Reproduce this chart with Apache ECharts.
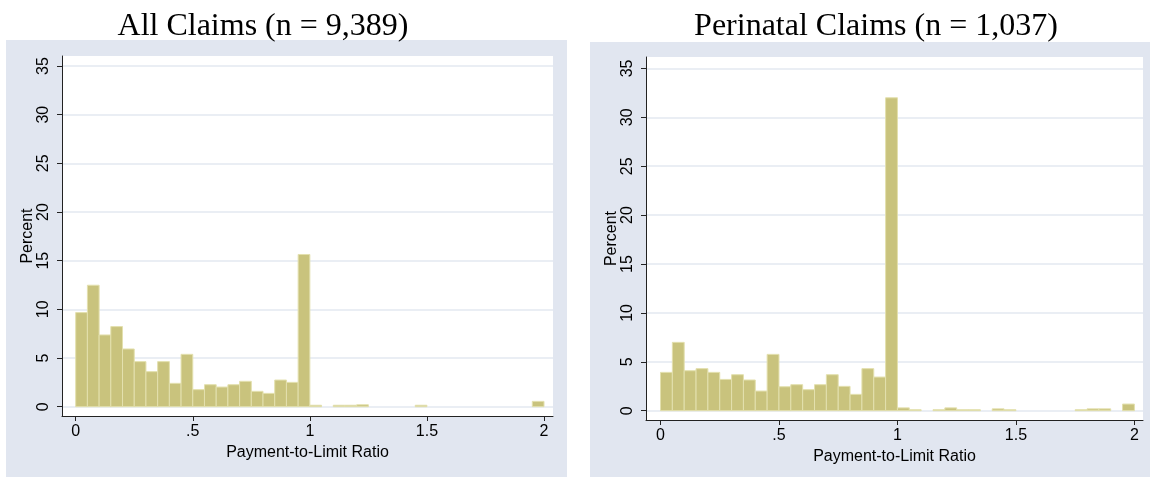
<!DOCTYPE html>
<html>
<head>
<meta charset="utf-8">
<title>Payment-to-Limit Ratio histograms</title>
<script src="https://cdn.jsdelivr.net/npm/echarts@6/dist/echarts.min.js"></script>
<style>
  html, body { margin: 0; padding: 0; background: #ffffff; }
  #chart { width: 1150px; height: 477px; }
</style>
</head>
<body>
<div id="chart"></div>
<script>
// Histogram bins: left edge of each 0.05-wide bin on the payment-to-limit ratio
const binStarts = [
  0.00, 0.05, 0.10, 0.15, 0.20, 0.25, 0.30, 0.35, 0.40, 0.45,
  0.50, 0.55, 0.60, 0.65, 0.70, 0.75, 0.80, 0.85, 0.90, 0.95,
  1.00, 1.05, 1.10, 1.15, 1.20, 1.25, 1.30, 1.35, 1.40, 1.45,
  1.50, 1.55, 1.60, 1.65, 1.70, 1.75, 1.80, 1.85, 1.90, 1.95
];
const binWidth = 0.05;

// Percent of claims in each bin
const allClaimsPct = [
  9.67, 12.48, 7.37, 8.23, 5.93, 4.63, 3.60, 4.63, 2.40, 5.38,
  1.75, 2.26, 2.02, 2.26, 2.61, 1.58, 1.37, 2.74, 2.50, 15.64,
  0.15, 0, 0.15, 0.15, 0.20, 0, 0, 0, 0, 0.15,
  0, 0, 0, 0, 0, 0, 0, 0, 0, 0.55
];
const perinatalPct = [
  3.92, 6.99, 4.09, 4.30, 3.92, 3.20, 3.68, 3.14, 2.01, 5.76,
  2.45, 2.66, 2.15, 2.66, 3.68, 2.49, 1.67, 4.30, 3.44, 32.0,
  0.29, 0.10, 0, 0.10, 0.29, 0.10, 0.10, 0, 0.19, 0.10,
  0, 0, 0, 0, 0, 0.10, 0.19, 0.19, 0, 0.68
];

const panelTitles = ['All Claims (n = 9,389)', 'Perinatal Claims (n = 1,037)'];
const xTickValues = [0, 0.5, 1, 1.5, 2];
const xTickLabels = ['0', '.5', '1', '1.5', '2'];
const yTickValues = [0, 5, 10, 15, 20, 25, 30, 35];
const xAxisTitle = 'Payment-to-Limit Ratio';
const yAxisTitle = 'Percent';

const BG = '#e1e6f0';
const GRID_LINE = '#e3e8f1';
const BAR_FILL = '#c9c37d';
const BAR_EDGE = '#e3e0ae';
const AXIS = '#222222';
const SANS = 'Liberation Sans, Arial, sans-serif';
const SERIF = 'Liberation Serif, Times New Roman, serif';

function pairs(values) {
  return binStarts.map((x, i) => [x, values[i]]);
}

function renderBin(params, api) {
  const x0 = api.value(0);
  const h = api.value(1);
  if (!h) return null;
  const topLeft = api.coord([x0, h]);
  const bottomRight = api.coord([x0 + binWidth, 0]);
  return {
    type: 'rect',
    shape: {
      x: topLeft[0],
      y: topLeft[1],
      width: bottomRight[0] - topLeft[0],
      height: bottomRight[1] - topLeft[1]
    },
    style: { fill: BAR_FILL, stroke: BAR_EDGE, lineWidth: 1 }
  };
}

function xAxisFor(gridIndex, min, max) {
  const xFmt = v => {
    const i = xTickValues.indexOf(v);
    return i >= 0 ? xTickLabels[i] : '';
  };
  return {
    type: 'value', gridIndex, min, max,
    name: xAxisTitle, nameLocation: 'middle', nameGap: 25,
    nameTextStyle: { fontFamily: SANS, fontSize: 16, color: '#000' },
    axisLine: { show: true, onZero: false, lineStyle: { color: AXIS, width: 1 } },
    axisTick: { show: true, length: 5, customValues: xTickValues, lineStyle: { color: AXIS } },
    axisLabel: { customValues: xTickValues, formatter: xFmt, margin: 8,
                 fontFamily: SANS, fontSize: 16, color: '#000' },
    splitLine: { show: false }
  };
}

function yAxisFor(gridIndex, min, max) {
  return {
    type: 'value', gridIndex, min, max,
    name: yAxisTitle, nameLocation: 'middle', nameGap: 24,
    nameTextStyle: { fontFamily: SANS, fontSize: 16, color: '#000' },
    axisLine: { show: true, onZero: false, lineStyle: { color: AXIS, width: 1 } },
    axisTick: { show: true, length: 5, customValues: yTickValues, lineStyle: { color: AXIS } },
    axisLabel: { customValues: yTickValues, rotate: 90, margin: 10,
                 fontFamily: SANS, fontSize: 16, color: '#000' },
    splitLine: { show: true, lineStyle: { color: GRID_LINE, width: 1.5 } }
  };
}

const chart = echarts.init(document.getElementById('chart'), null, { renderer: 'canvas' });

chart.setOption({
  animation: false,
  backgroundColor: '#ffffff',
  graphic: {
    elements: [
      { type: 'rect', z: -10, silent: true, shape: { x: 6, y: 40, width: 561, height: 437 }, style: { fill: BG } },
      { type: 'rect', z: -10, silent: true, shape: { x: 590, y: 42, width: 560, height: 435 }, style: { fill: BG } }
    ]
  },
  title: [
    { text: panelTitles[0], left: 258, top: 6, textAlign: 'center',
      textStyle: { fontFamily: SERIF, fontSize: 32, fontWeight: 'normal', color: '#000' } },
    { text: panelTitles[1], left: 871, top: 6, textAlign: 'center',
      textStyle: { fontFamily: SERIF, fontSize: 32, fontWeight: 'normal', color: '#000' } }
  ],
  grid: [
    { left: 62, top: 56, width: 491, height: 360, show: true, backgroundColor: '#ffffff', borderWidth: 0 },
    { left: 646, top: 57, width: 497, height: 363, show: true, backgroundColor: '#ffffff', borderWidth: 0 }
  ],
  xAxis: [
    xAxisFor(0, -0.0585, 2.0384),
    xAxisFor(1, -0.0612, 2.0363)
  ],
  yAxis: [
    yAxisFor(0, -0.955, 36.03),
    yAxisFor(1, -0.951, 36.17)
  ],
  series: [
    { type: 'custom', xAxisIndex: 0, yAxisIndex: 0, renderItem: renderBin,
      encode: { x: 0, y: 1 }, data: pairs(allClaimsPct) },
    { type: 'custom', xAxisIndex: 1, yAxisIndex: 1, renderItem: renderBin,
      encode: { x: 0, y: 1 }, data: pairs(perinatalPct) }
  ]
});
</script>
</body>
</html>
